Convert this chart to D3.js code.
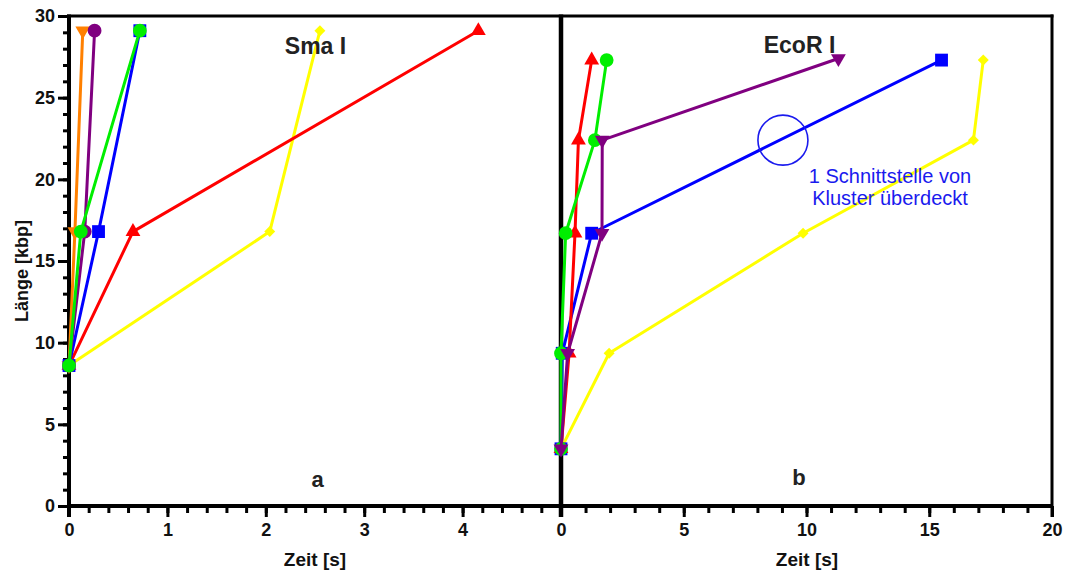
<!DOCTYPE html>
<html><head><meta charset="utf-8">
<script src="https://cdn.jsdelivr.net/npm/d3@7"></script>
<style>
html,body{margin:0;padding:0;background:#fff;}
text{font-family:"Liberation Sans",Arial,sans-serif;}
</style></head>
<body><svg id="c" width="1066" height="572"></svg>
<script>
// ---- data ----
const yTicks = [0, 5, 10, 15, 20, 25, 30];
const xTicksA = [0, 1, 2, 3, 4];
const xTicksB = [0, 5, 10, 15, 20];

// Panel a (Sma I): [time s, length kbp]
const smaBlue   = [[0, 8.6], [0.30, 16.8], [0.72, 29.1]];
const smaGreen  = [[0, 8.6], [0.12, 16.8], [0.72, 29.1]];
const smaPurple = [[0, 8.6], [0.16, 16.8], [0.26, 29.1]];
const smaOrange = [[0, 8.6], [0.06, 16.8], [0.14, 29.1]];
const smaRed    = [[0, 8.6], [0.65, 16.8], [4.16, 29.1]];
const smaYellow = [[0, 8.6], [2.04, 16.8], [2.55, 29.1]];

// Panel b (EcoR I)
const ecoYellow = [[0, 3.5], [1.96, 9.35], [9.86, 16.7], [16.8, 22.4], [17.2, 27.3]];
const ecoBlue   = [[0, 3.5], [0.05, 9.35], [1.25, 16.7], [15.5, 27.3]];
const ecoRed    = [[0, 3.5], [0.33, 9.35], [0.57, 16.7], [0.71, 22.4], [1.25, 27.3]];
const ecoGreen  = [[0, 3.5], [0.0, 9.35], [0.19, 16.7], [1.38, 22.4], [1.86, 27.3]];
const ecoPurple = [[0, 3.5], [0.27, 9.35], [1.67, 16.7], [1.68, 22.4], [11.3, 27.4]];

const circleMark = [9.04, 22.4];

// ---- layout ----
const svg = d3.select("#c");
const y = d3.scaleLinear().domain([0, 30]).range([506, 16]);
const xa = d3.scaleLinear().domain([0, 5]).range([69, 561]);
const xb = d3.scaleLinear().domain([0, 20]).range([561, 1052]);

function styleAxis(g, lw) {
  g.select(".domain").remove();
  g.selectAll(".tick line").attr("stroke", "#000").attr("stroke-width", lw);
  g.selectAll(".tick text").attr("font-size", 18).attr("font-weight", "bold")
    .attr("fill", "#111").attr("font-family", "'Liberation Sans',Arial,sans-serif");
}

// y axis (left)
const gyMinor = svg.append("g").attr("transform", "translate(69,0)")
  .call(d3.axisLeft(y).tickValues(d3.range(0, 31, 1)).tickSize(6).tickFormat(""));
styleAxis(gyMinor, 3);
const gy = svg.append("g").attr("transform", "translate(69,0)")
  .call(d3.axisLeft(y).tickValues(yTicks).tickSize(11).tickPadding(3));
styleAxis(gy, 3);

// x axis a
const gxaMinor = svg.append("g").attr("transform", "translate(0,506)")
  .call(d3.axisBottom(xa).tickValues(d3.range(0, 5.01, 0.2)).tickSize(7).tickFormat(""));
styleAxis(gxaMinor, 3);
const gxa = svg.append("g").attr("transform", "translate(0,506)")
  .call(d3.axisBottom(xa).tickValues(xTicksA).tickSize(11).tickPadding(6).tickFormat(d3.format("d")));
styleAxis(gxa, 3);

// x axis b
const gxbMinor = svg.append("g").attr("transform", "translate(0,506)")
  .call(d3.axisBottom(xb).tickValues(d3.range(0, 21, 1)).tickSize(7).tickFormat(""));
styleAxis(gxbMinor, 3);
const gxb = svg.append("g").attr("transform", "translate(0,506)")
  .call(d3.axisBottom(xb).tickValues(xTicksB).tickSize(11).tickPadding(6).tickFormat(d3.format("d")));
styleAxis(gxb, 3);

// frame lines
svg.append("line").attr("x1", 69).attr("x2", 1052).attr("y1", 506).attr("y2", 506)
  .attr("stroke", "#000").attr("stroke-width", 4);
svg.append("line").attr("x1", 67).attr("x2", 1053.5).attr("y1", 16).attr("y2", 16)
  .attr("stroke", "#000").attr("stroke-width", 3);
svg.append("line").attr("x1", 69).attr("x2", 69).attr("y1", 14.5).attr("y2", 517)
  .attr("stroke", "#000").attr("stroke-width", 4);
svg.append("line").attr("x1", 561).attr("x2", 561).attr("y1", 14.5).attr("y2", 517)
  .attr("stroke", "#000").attr("stroke-width", 4.5);
svg.append("line").attr("x1", 1052).attr("x2", 1052).attr("y1", 14.5).attr("y2", 517)
  .attr("stroke", "#000").attr("stroke-width", 3);

// ---- series ----
const sym = {
  circle: d3.symbol().type(d3.symbolCircle).size(150)(),
  square: d3.symbol().type(d3.symbolSquare).size(165)(),
  tri: d3.symbol().type(d3.symbolTriangle).size(95)(),
  diamond: d3.symbol().type(d3.symbolSquare).size(60)()
};
function series(data, x, color, shape) {
  const line = d3.line().x(d => x(d[0])).y(d => y(d[1]));
  svg.append("path").attr("d", line(data)).attr("fill", "none")
    .attr("stroke", color).attr("stroke-width", 3).attr("stroke-linejoin", "round");
  let rot = 0, path = sym.circle;
  if (shape === "square") path = sym.square;
  if (shape === "up") { path = sym.tri; rot = 0; }
  if (shape === "down") { path = sym.tri; rot = 180; }
  if (shape === "diamond") { path = sym.diamond; rot = 45; }
  svg.append("g").selectAll("path").data(data).join("path")
    .attr("d", path)
    .attr("transform", d => `translate(${x(d[0])},${y(d[1])}) rotate(${rot})`)
    .attr("fill", color);
}

// panel a
series(smaYellow, xa, "#ffff00", "diamond");
series(smaRed, xa, "#ff0000", "up");
series(smaOrange, xa, "#ff8000", "down");
series(smaBlue, xa, "#0000ff", "square");
series(smaPurple, xa, "#800080", "circle");
series(smaGreen, xa, "#00ee00", "circle");

// panel b
series(ecoYellow, xb, "#ffff00", "diamond");
series(ecoBlue, xb, "#0000ff", "square");
series(ecoRed, xb, "#ff0000", "up");
series(ecoGreen, xb, "#00ee00", "circle");
series(ecoPurple, xb, "#800080", "down");

// annotation circle
svg.append("circle").attr("cx", xb(circleMark[0])).attr("cy", y(circleMark[1])).attr("r", 25)
  .attr("fill", "none").attr("stroke", "#1a1aee").attr("stroke-width", 1.6);
svg.append("text").attr("x", 890).attr("y", 183).attr("text-anchor", "middle")
  .attr("font-size", 20).attr("fill", "#1a1aee").text("1 Schnittstelle von");
svg.append("text").attr("x", 890).attr("y", 205).attr("text-anchor", "middle")
  .attr("font-size", 20).attr("fill", "#1a1aee").text("Kluster überdeckt");

// titles
svg.append("text").attr("x", 315.5).attr("y", 54).attr("text-anchor", "middle")
  .attr("font-size", 23).attr("font-weight", "bold").attr("fill", "#222").text("Sma I");
svg.append("text").attr("x", 799.5).attr("y", 53).attr("text-anchor", "middle")
  .attr("font-size", 23).attr("font-weight", "bold").attr("fill", "#222").text("EcoR I");
svg.append("text").attr("x", 317.5).attr("y", 487).attr("text-anchor", "middle")
  .attr("font-size", 22).attr("font-weight", "bold").attr("fill", "#222").text("a");
svg.append("text").attr("x", 799).attr("y", 485).attr("text-anchor", "middle")
  .attr("font-size", 22).attr("font-weight", "bold").attr("fill", "#222").text("b");

// axis titles
svg.append("text").attr("x", 315).attr("y", 566).attr("text-anchor", "middle")
  .attr("font-size", 19).attr("font-weight", "bold").attr("fill", "#111").text("Zeit [s]");
svg.append("text").attr("x", 807).attr("y", 566).attr("text-anchor", "middle")
  .attr("font-size", 19).attr("font-weight", "bold").attr("fill", "#111").text("Zeit [s]");
svg.append("text").attr("transform", "translate(28,271) rotate(-90)").attr("text-anchor", "middle")
  .attr("font-size", 18).attr("font-weight", "bold").attr("fill", "#111").text("Länge [kbp]");
</script></body></html>
